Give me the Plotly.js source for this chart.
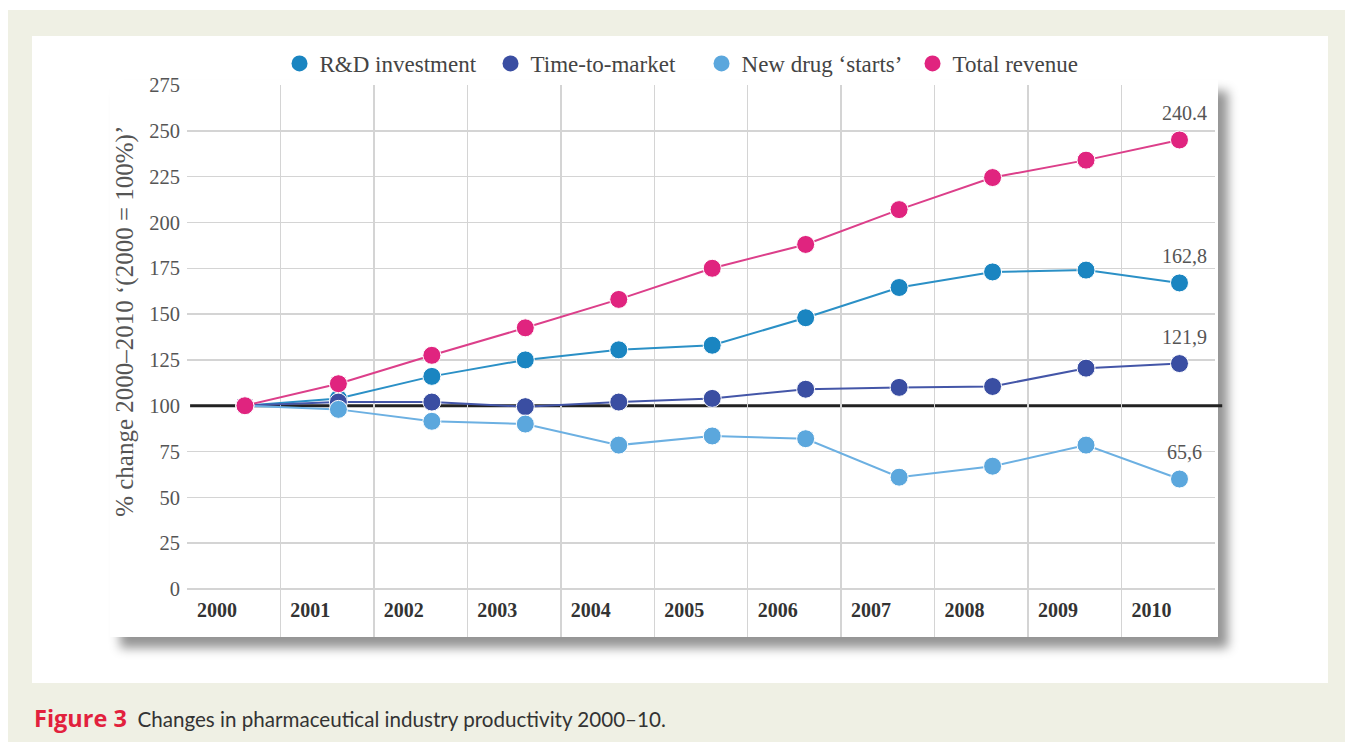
<!DOCTYPE html>
<html>
<head>
<meta charset="utf-8">
<script src="https://cdn.plot.ly/plotly-3.0.1.min.js"></script>
<style>
  html, body { margin:0; padding:0; background:#ffffff; width:1357px; height:742px; overflow:hidden; }
  #panel { position:absolute; left:8px; top:10px; width:1337px; height:732px; background:#eff0e4; }
  #inner { position:absolute; left:32px; top:36px; width:1296px; height:647px; background:#ffffff; }
  #card { position:absolute; left:110px; top:80px; width:1108px; height:557px; background:#ffffff;
          box-shadow: 10px 11px 10px rgba(0,0,0,0.42); }
  #chart { position:absolute; left:0; top:0; width:1357px; height:742px; }
</style>
</head>
<body>
<div id="panel"></div>
<div id="inner"></div>
<div id="card"></div>
<div id="chart"></div>
<script>
// ---- data ----
var years = [2000, 2001, 2002, 2003, 2004, 2005, 2006, 2007, 2008, 2009, 2010];
var yearLabels = ["2000","2001","2002","2003","2004","2005","2006","2007","2008","2009","2010"];
var seriesNames = ["R&D investment", "Time-to-market", "New drug \u2018starts\u2019", "Total revenue"];
var rdInvestment  = [100, 104, 116, 125, 130.5, 133, 148, 164.5, 173, 174, 167];
var timeToMarket  = [100, 102, 102, 99.5, 102, 104, 109, 110, 110.5, 120.5, 123];
var newDrugStarts = [100, 98, 91.5, 90, 78.5, 83.5, 82, 61, 67, 78.5, 60];
var totalRevenue  = [100, 112, 127.5, 142.5, 158, 175, 188, 207, 224.5, 234, 245];
var endLabels     = ["162,8", "121,9", "65,6", "240.4"];
var yTicks = [0, 25, 50, 75, 100, 125, 150, 175, 200, 225, 250, 275];
var baseline = 100;

// ---- styles ----
var markerColors = ["#1a85c1", "#3a4ea2", "#5ba7dd", "#e0247f"];
var lineColors   = ["#2b90c6", "#4456a8", "#6cb0e2", "#dc3f8a"];
var serif = "Liberation Serif, Times New Roman, serif";
var allSeries = [rdInvestment, timeToMarket, newDrugStarts, totalRevenue];

var traces = [];
allSeries.forEach(function (vals, i) {
  traces.push({
    type: "scatter", mode: "lines+markers", x: years, y: vals, name: seriesNames[i],
    showlegend: false, hoverinfo: "skip",
    line: { color: lineColors[i], width: 2 },
    marker: { color: markerColors[i], size: 18, line: { color: "#ffffff", width: 1 } }
  });
});
// legend-only entries (markers only)
allSeries.forEach(function (vals, i) {
  traces.push({
    type: "scatter", mode: "markers", x: [null], y: [null], name: seriesNames[i],
    showlegend: true, hoverinfo: "skip",
    marker: { color: markerColors[i], size: 16 }
  });
});
// axis carriers
traces.push({ type: "scatter", x: [], y: [], xaxis: "x2", showlegend: false, hoverinfo: "skip" });
traces.push({ type: "scatter", x: [], y: [], xaxis: "x3", showlegend: false, hoverinfo: "skip" });
traces.push({ type: "scatter", x: [], y: [], yaxis: "y2", showlegend: false, hoverinfo: "skip" });

var annotations = [];
allSeries.forEach(function (vals, i) {
  annotations.push({
    x: years[years.length - 1], y: vals[vals.length - 1], xref: "x", yref: "y",
    text: endLabels[i], showarrow: false, yshift: 27, xshift: 5,
    font: { family: serif, size: 20, color: "#555555" }
  });
});
annotations.push({
  xref: "paper", yref: "paper", x: -0.0603, y: 0.571, textangle: -90,
  text: "% change 2000\u20132010 \u2018(2000 = 100%)\u2019", showarrow: false,
  xanchor: "center", yanchor: "middle",
  font: { family: serif, size: 25, color: "#555555" }
});
annotations.push({
  xref: "paper", yref: "paper", x: -0.1508, y: -0.1469, xanchor: "left", yanchor: "middle",
  showarrow: false,
  text: "<span style='font-family:Open Sans;font-size:23.5px;font-weight:bold;color:#e2213d'>Figure 3</span>  Changes in pharmaceutical industry productivity 2000\u201310.",
  font: { family: "Lato, Open Sans, sans-serif", size: 20.6, color: "#333333" }
});

var gridTicks = years.slice(0, years.length - 1).map(function (y) { return y + 0.5; });
var yGridTicks = yTicks.filter(function (v) { return v !== baseline; });

var layout = {
  width: 1357, height: 742,
  margin: { l: 187, r: 142, t: 85, b: 105 },
  paper_bgcolor: "rgba(0,0,0,0)", plot_bgcolor: "rgba(0,0,0,0)",
  showlegend: true,
  legend: {
    orientation: "h", x: 0.09, xanchor: "left", y: 1.039, yanchor: "middle",
    entrywidth: 166, entrywidthmode: "pixels",
    font: { family: serif, size: 23, color: "#444444" }, bgcolor: "rgba(0,0,0,0)"
  },
  xaxis: { range: [1999.38, 2010.38], visible: false, fixedrange: true },
  xaxis2: {
    overlaying: "x", anchor: "free", position: 0.074, range: [1999.68, 2010.68],
    tickvals: years, ticktext: yearLabels, showgrid: false, zeroline: false, showline: false, ticks: "",
    tickfont: { family: serif, size: 20, color: "#333333", weight: "bold" }
  },
  xaxis3: {
    overlaying: "x", anchor: "y", range: [1999.5, 2010.5], tickvals: gridTicks,
    showticklabels: false, showgrid: true, gridcolor: "#d4d4d4", gridwidth: 1.5,
    zeroline: false, showline: false, ticks: ""
  },
  yaxis: {
    range: [-26.2, 275], tickvals: yTicks, showgrid: false,
    zeroline: false, showline: false, ticks: "", ticklabelstandoff: 6,
    tickfont: { family: serif, size: 20.5, color: "#555555" }
  },
  yaxis2: {
    overlaying: "y", anchor: "x", side: "left", range: [-26.2, 275], tickvals: yGridTicks,
    showticklabels: false, showgrid: true, gridcolor: "#d4d4d4", gridwidth: 1.5,
    zeroline: false, showline: false, ticks: ""
  },
  shapes: [{
    type: "line", xref: "paper", yref: "y", x0: 0.003, x1: 1.007, y0: baseline, y1: baseline,
    line: { color: "#222222", width: 3 }, layer: "below"
  }],
  annotations: annotations
};

Plotly.newPlot("chart", traces, layout, { displayModeBar: false, staticPlot: true });
</script>
</body>
</html>
